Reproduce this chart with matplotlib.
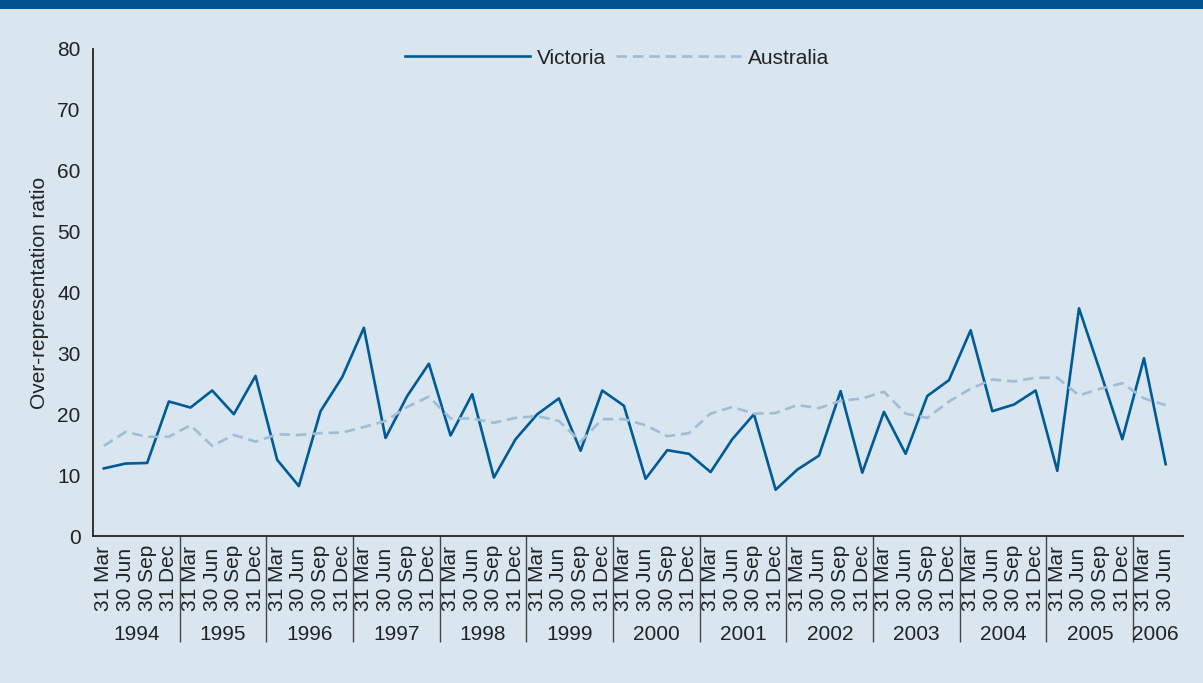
"""Over-representation ratio, Victoria vs Australia, quarterly 1994-2006."""
import matplotlib

matplotlib.use("Agg")
import matplotlib.pyplot as plt
import numpy as np

plt.rcParams["font.family"] = ["Liberation Sans", "DejaVu Sans"]

BG = "#d9e6f0"
BAND = "#00558f"
VIC_COLOR = "#005a96"
AUS_COLOR = "#9dbdd8"
TEXT = "#222222"

years = [str(y) for y in range(1994, 2007)]
quarters = ["31 Mar", "30 Jun", "30 Sep", "31 Dec"]
labels = [q for y in years[:-1] for q in quarters] + quarters[:2]

victoria = [
    11.1, 11.9, 12.0, 22.1, 21.1, 23.9, 20.0, 26.3,
    12.5, 8.2, 20.5, 26.1, 34.2, 16.1, 23.0, 28.3,
    16.5, 23.3, 9.6, 15.9, 20.0, 22.6, 14.0, 23.9,
    21.4, 9.4, 14.1, 13.5, 10.5, 15.9, 20.0, 7.6,
    10.9, 13.2, 23.8, 10.4, 20.4, 13.5, 23.0, 25.6,
    33.8, 20.5, 21.6, 23.9, 10.7, 37.4, 26.8, 15.9,
    29.2, 11.8,
]
australia = [
    14.8, 17.1, 16.3, 16.3, 18.2, 14.8, 16.6, 15.5,
    16.7, 16.6, 16.9, 17.0, 17.9, 18.9, 21.2, 22.9,
    19.3, 19.3, 18.6, 19.4, 19.7, 18.9, 15.5, 19.2,
    19.2, 18.2, 16.4, 16.9, 20.1, 21.2, 20.1, 20.2,
    21.5, 21.0, 22.2, 22.6, 23.7, 20.1, 19.4, 22.1,
    24.2, 25.7, 25.4, 26.0, 26.0, 23.1, 24.2, 25.1,
    22.6, 21.5,
]


def main() -> None:
    W, H = 1203, 683
    fig = plt.figure(figsize=(W / 100, H / 100), dpi=100, facecolor=BG)
    # dark band across the top
    fig.add_artist(plt.Rectangle((0, 1 - 9 / H), 1, 9 / H, transform=fig.transFigure,
                                 color=BAND, lw=0))

    left, right, top, bottom = 93, 1183, 49, 536
    ax = fig.add_axes([left / W, 1 - bottom / H, (right - left) / W, (bottom - top) / H])
    ax.set_facecolor(BG)

    x = np.arange(len(victoria))
    ax.plot(x, victoria, color=VIC_COLOR, lw=1.9, label="Victoria")
    ax.plot(x, australia, color=AUS_COLOR, lw=1.9, dashes=(4, 2.2), label="Australia")

    ax.set_ylim(0, 80)
    ax.set_xlim(-0.5, 49.8)
    ax.set_yticks(range(0, 81, 10))
    ax.tick_params(axis="y", length=0, pad=9, labelsize=15, labelcolor=TEXT)

    # quarter labels share a common baseline (start of the rotated text)
    ax.set_xticks(x)
    ax.set_xticklabels(labels, rotation=90, fontsize=15, color=TEXT, va="bottom")
    ax.tick_params(axis="x", which="major", length=0, pad=54)
    # year separators as long minor ticks
    seps = [i * 4 - 0.5 for i in range(1, len(years))]
    ax.set_xticks(seps, minor=True)
    ax.tick_params(axis="x", which="minor", length=76, width=1.0, color="#444444")

    for i, yr in enumerate(years):
        lo = i * 4
        hi = min(lo + 3, len(victoria) - 1)
        ax.text((lo + hi) / 2, -98 / (bottom - top), yr, transform=ax.get_xaxis_transform(),
                ha="center", va="center", fontsize=15, color=TEXT)

    for s in ("top", "right"):
        ax.spines[s].set_visible(False)
    for s in ("left", "bottom"):
        ax.spines[s].set_color("#222222")
        ax.spines[s].set_linewidth(1.3)

    ax.set_ylabel("Over-representation ratio", fontsize=15, color=TEXT, labelpad=6)

    fig.legend(loc="center", bbox_to_anchor=(617 / W, 1 - 58 / H), ncol=2, frameon=False,
               fontsize=15, handlelength=6.0, handletextpad=0.35, columnspacing=0.45,
               labelcolor=TEXT)

    fig.savefig("out.png", dpi=100, facecolor=BG)
    plt.close(fig)


if __name__ == "__main__":
    main()
